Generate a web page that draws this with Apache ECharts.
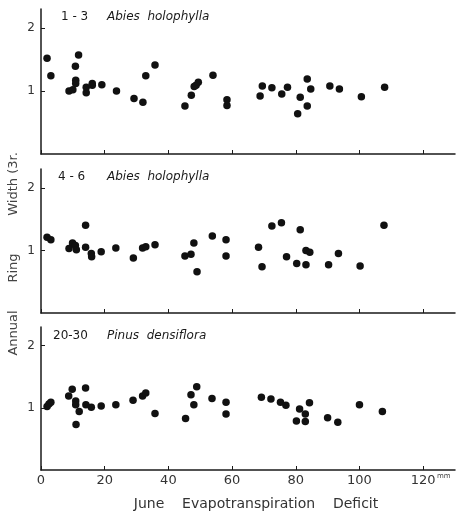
<!DOCTYPE html>
<html>
<head>
<meta charset="utf-8">
<script src="https://cdn.jsdelivr.net/npm/echarts@6/dist/echarts.min.js"></script>
<style>html,body{margin:0;padding:0;background:#fff}#c{width:456px;height:512px}</style>
</head>
<body>
<div id="c"></div>
<script>
// Panel 1: 1-3 Abies holophylla  [deficit mm, ring width]
const abies13 = [
  [1.9,1.52],[3.1,1.24],[8.8,1.00],[10.0,1.02],[10.8,1.39],[11.8,1.57],[10.9,1.17],[10.9,1.12],
  [14.2,1.06],[14.2,0.97],[16.1,1.12],[16.1,1.09],[19.1,1.10],[23.7,1.00],[29.2,0.88],[32.0,0.82],
  [32.9,1.24],[35.8,1.41],[45.2,0.76],[47.2,0.93],[48.1,1.07],[48.7,1.09],[49.4,1.14],[54.0,1.25],
  [58.4,0.86],[58.4,0.77],[68.8,0.92],[69.5,1.08],[72.5,1.05],[75.6,0.95],[77.4,1.06],[80.6,0.64],
  [81.4,0.90],[83.6,1.19],[83.6,0.76],[84.7,1.03],[90.7,1.08],[93.7,1.03],[100.6,0.91],[107.9,1.06]
];
// Panel 2: 4-6 Abies holophylla
const abies46 = [
  [1.9,1.21],[3.1,1.17],[8.8,1.03],[9.9,1.12],[10.8,1.08],[11.1,1.01],[14.0,1.40],[14.0,1.05],
  [15.8,0.95],[15.9,0.90],[18.9,0.98],[23.5,1.04],[29.0,0.88],[31.9,1.04],[32.9,1.06],[35.8,1.09],
  [45.2,0.91],[47.1,0.94],[48.0,1.12],[49.0,0.66],[53.8,1.23],[58.1,1.17],[58.1,0.91],[68.3,1.05],
  [69.4,0.74],[72.5,1.39],[75.5,1.44],[77.1,0.90],[80.3,0.79],[81.4,1.33],[83.2,1.00],[84.4,0.97],
  [83.2,0.77],[90.3,0.77],[93.4,0.95],[100.2,0.75],[107.7,1.40]
];
// Panel 3: 20-30 Pinus densiflora
const pinus2030 = [
  [1.9,1.02],[2.5,1.06],[3.1,1.09],[8.7,1.19],[9.8,1.30],[10.9,1.11],[10.9,1.05],[11.0,0.73],
  [12.0,0.94],[14.0,1.32],[14.1,1.05],[15.8,1.01],[18.9,1.03],[23.5,1.05],[28.9,1.12],[31.9,1.19],
  [32.9,1.24],[35.8,0.91],[45.4,0.83],[47.1,1.21],[48.0,1.05],[48.9,1.34],[53.7,1.15],[58.1,1.09],
  [58.1,0.90],[69.2,1.17],[72.2,1.14],[75.2,1.09],[76.9,1.04],[80.2,0.79],[81.2,0.98],[83.0,0.90],
  [83.0,0.78],[84.3,1.08],[90.0,0.84],[93.2,0.77],[100.0,1.05],[107.2,0.94]
];
const xTicks = [0,20,40,60,80,100,120];
const yTicks = [1,2];
const panelNumbers = ['1 - 3','4 - 6','20-30'];
const panelSpecies = ['Abies  holophylla','Abies  holophylla','Pinus  densiflora'];
const xName = 'June    Evapotranspiration    Deficit';
const yNameWords = ['Annual','Ring','Width (3r.'];
const series = [abies13, abies46, pinus2030];

const ink = '#1a1a1a';
const font = 'DejaVu Sans';
const grids = [
  {left:41, top:9, width:414, height:145},
  {left:41, top:169, width:414, height:144},
  {left:41, top:327, width:414, height:143}
];
const titleTops = [11,171,330];
const numberLefts = [61,58,53];
const titles = [];
panelNumbers.forEach((t,i)=>{
  titles.push({left:numberLefts[i], top:titleTops[i], padding:0, text:t,
    textStyle:{fontSize:12, fontWeight:'normal', color:ink, fontFamily:font}});
  titles.push({left:107, top:titleTops[i], padding:0, text:panelSpecies[i],
    textStyle:{fontSize:12, fontWeight:'normal', fontStyle:'italic', color:ink, fontFamily:font}});
});
const yWordPos = [[14,333],[14,268],[14,184]];
const chart = echarts.init(document.getElementById('c'), null, {renderer:'canvas'});
const option = {
  backgroundColor:'#fff',
  animation:false,
  textStyle:{fontFamily:font},
  grid: grids,
  title: titles,
  xAxis: [0,1,2].map(i=>({
    type:'value', gridIndex:i, min:0, max:130,
    axisLine:{show:true, lineStyle:{color:ink, width:1.5}},
    axisTick:{show:true, inside:true, length:4, customValues:xTicks, lineStyle:{color:ink}},
    axisLabel:{show:i===2, customValues:xTicks, color:'#333', fontSize:13, margin:4, fontFamily:font},
    splitLine:{show:false},
    name: i===2 ? xName : '',
    nameLocation:'middle', nameGap:27,
    nameTextStyle:{color:'#333', fontSize:14, fontFamily:font, padding:[0,0,0,16]}
  })),
  yAxis: [0,1,2].map(i=>({
    type:'value', gridIndex:i, min:0, max:2.3,
    axisLine:{show:true, lineStyle:{color:ink, width:1.5}},
    axisTick:{show:true, inside:true, length:4, customValues:yTicks, lineStyle:{color:ink}},
    axisLabel:{show:true, customValues:yTicks, color:'#333', fontSize:12, margin:6, fontFamily:font},
    splitLine:{show:false}
  })),
  series: series.map((d,i)=>({
    type:'scatter', xAxisIndex:i, yAxisIndex:i, data:d,
    symbol:'circle', symbolSize:7.5,
    itemStyle:{color:'#111', opacity:1}
  })),
  graphic: yNameWords.map((w,i)=>({
    type:'text', x:yWordPos[i][0], y:yWordPos[i][1], rotation:Math.PI/2, silent:true,
    style:{text:w, fontSize:13, fill:'#444', fontFamily:font, align:'center', verticalAlign:'middle'}
  })).concat([
    {type:'text', left:437, top:473,
     style:{text:'mm', fontSize:7, fill:'#444', fontFamily:font}, silent:true}
  ])
};
chart.setOption(option);
</script>
</body>
</html>
